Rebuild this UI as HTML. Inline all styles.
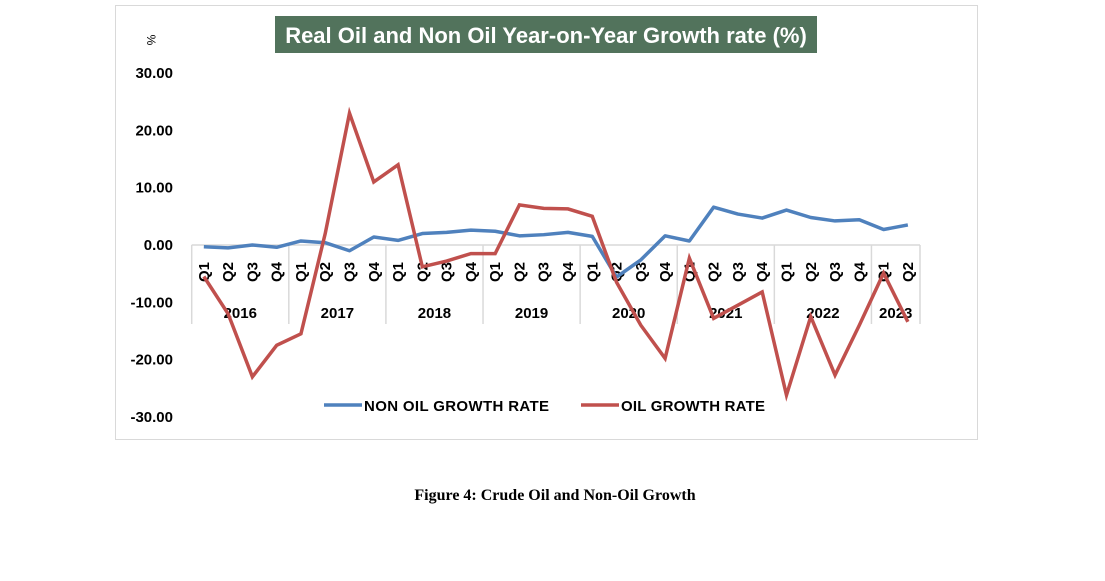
<!DOCTYPE html>
<html><head><meta charset="utf-8"><style>
body{margin:0;background:#fff;width:1105px;height:581px;overflow:hidden;position:relative;font-family:"Liberation Sans",sans-serif}
</style></head><body>
<svg width="1105" height="581" style="position:absolute;left:0;top:0">
<rect x="115.5" y="5.5" width="862" height="434" fill="#fff" stroke="#d9d9d9"/>
<rect x="275" y="16" width="542" height="37" fill="#52735c"/>
<text x="546" y="43" text-anchor="middle" fill="#fff" font-size="22" font-weight="bold">Real Oil and Non Oil Year-on-Year Growth rate (%)</text>
<text transform="translate(147,40) rotate(90)" font-size="12" text-anchor="middle">%</text>
<g id="yt"></g><g id="xa"></g><g id="ln"></g>
<g>
<line x1="324" y1="405" x2="362" y2="405" stroke="#4f81bd" stroke-width="3.5"/>
<text x="364" y="411" font-size="15" font-weight="bold" textLength="185">NON OIL GROWTH RATE</text>
<line x1="581" y1="405" x2="619" y2="405" stroke="#c0504d" stroke-width="3.5"/>
<text x="621" y="411" font-size="15" font-weight="bold" textLength="144">OIL GROWTH RATE</text>
</g>
<text x="555" y="500" text-anchor="middle" font-family="Liberation Serif,serif" font-weight="bold" font-size="16">Figure 4: Crude Oil and Non-Oil Growth</text>
</svg>
<script>
const years=["2016","2017","2018","2019","2020","2021","2022","2023"];
const quarters=["Q1","Q2","Q3","Q4"];
const yTicks=[30,20,10,0,-10,-20,-30];
const nonOil=[-0.3,-0.5,0,-0.4,0.7,0.4,-1,1.4,0.8,2,2.2,2.6,2.4,1.6,1.8,2.2,1.5,-5.6,-2.6,1.6,0.7,6.6,5.4,4.7,6.1,4.8,4.2,4.4,2.7,3.5];
const oil=[-5.5,-12,-23,-17.5,-15.5,2,23,11,14,-3.8,-2.8,-1.5,-1.5,7,6.4,6.3,5,-6.5,-14,-19.8,-2.3,-12.8,-10.5,-8.2,-26.2,-12.5,-22.7,-14,-4.9,-13.4];
const NS="http://www.w3.org/2000/svg";
const x0=191.7,x1=920,n=nonOil.length,step=(x1-x0)/n;
const X=i=>x0+step*(i+0.5);
const Y=v=>245-v*5.73;
function mk(t,a,p){const e=document.createElementNS(NS,t);for(const k in a)e.setAttribute(k,a[k]);p.appendChild(e);return e;}
const yt=document.getElementById('yt');
yTicks.forEach(v=>{const t=mk('text',{x:173,y:Y(v)+5,'text-anchor':'end','font-size':15,'font-weight':'bold'},yt);t.textContent=v.toFixed(2);

});
const xa=document.getElementById('xa');
mk('line',{x1:x0,y1:245,x2:x1,y2:245,stroke:'#d9d9d9','stroke-width':1.5},xa);
for(let i=0;i<=n;i++){if(i%4==0||i==n){const l=mk('line',{x1:x0+step*i,y1:245,x2:x0+step*i,y2:324,stroke:'#d9d9d9','stroke-width':1.5},xa);

}}
for(let i=0;i<n;i++){const t=mk('text',{transform:`translate(${X(i)+5},272) rotate(-90)`,'text-anchor':'middle','font-size':15,'font-weight':'bold'},xa);t.textContent=quarters[i%4];

}
years.forEach((y,j)=>{const a=j*4,b=Math.min(n,a+4);const t=mk('text',{x:x0+step*(a+b)/2,y:318,'text-anchor':'middle','font-size':15,'font-weight':'bold'},xa);t.textContent=y;

});
const ln=document.getElementById('ln');
const p1=mk('polyline',{points:nonOil.map((v,i)=>X(i)+','+Y(v)).join(' '),fill:'none',stroke:'#4f81bd','stroke-width':3.5,'stroke-linejoin':'round'},ln);


const p2=mk('polyline',{points:oil.map((v,i)=>X(i)+','+Y(v)).join(' '),fill:'none',stroke:'#c0504d','stroke-width':3.5,'stroke-linejoin':'miter'},ln);


</script>
</body></html>
